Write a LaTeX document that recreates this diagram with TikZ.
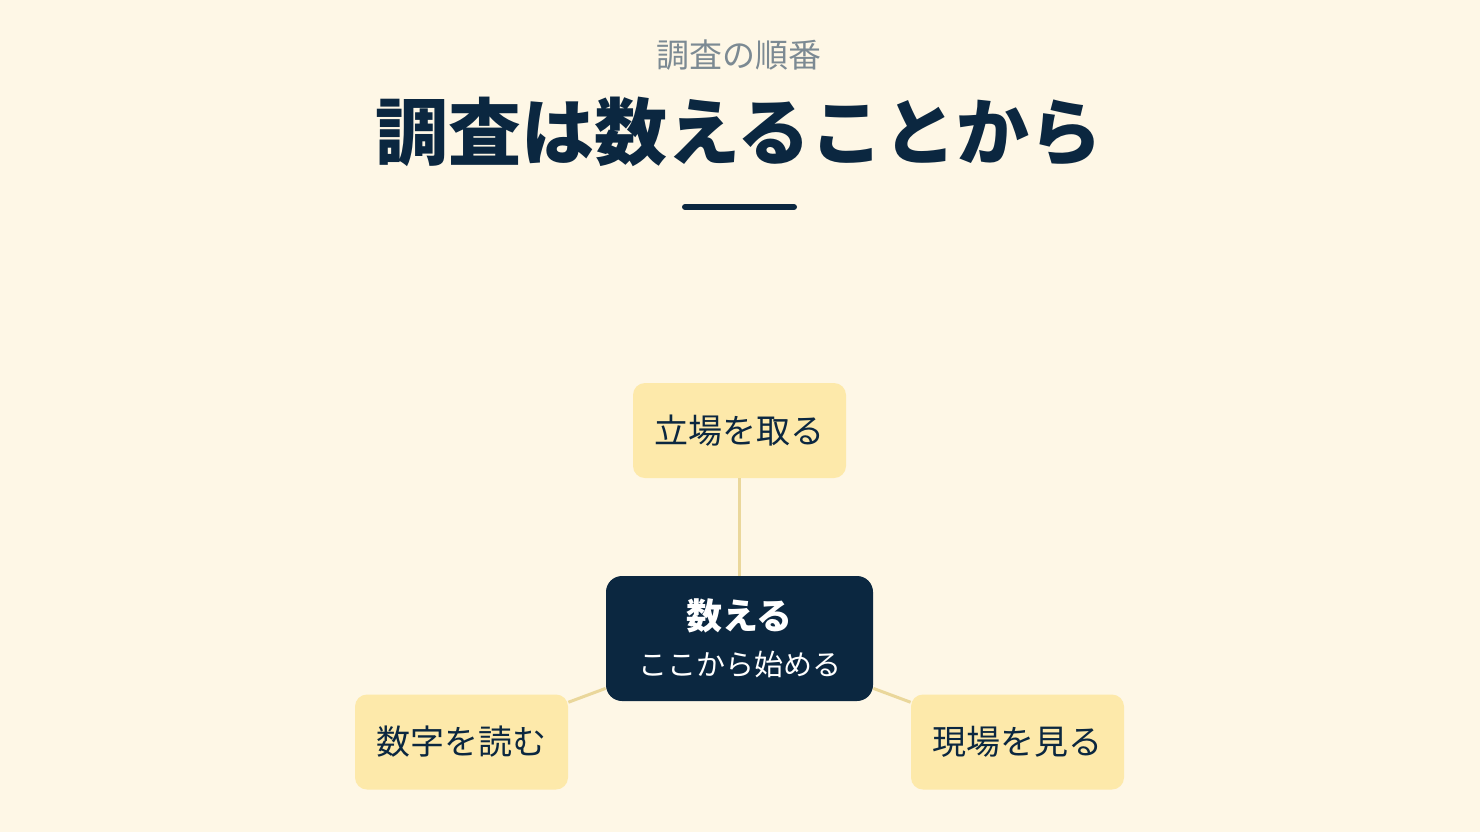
\documentclass[tikz,border=0pt]{standalone}
\usepackage{fontspec}
\setmainfont{Noto Sans CJK JP}
\usepackage{tikz}

\definecolor{cream}{HTML}{FEF7E6}
\definecolor{navy}{HTML}{0B2740}
\definecolor{sand}{HTML}{FDE9AA}
\definecolor{linegold}{HTML}{EAD79B}
\definecolor{subgray}{HTML}{7C8A93}

\begin{document}
\begin{tikzpicture}[x=0.5pt,y=-0.5pt]
\fill[cream] (0,0) rectangle (1480,832);

% heading
\node[text=subgray,font=\fontsize{16.5}{20}\selectfont] (sub) at (739,55) {調査の順番};
\node[text=navy,font=\bfseries\fontsize{36.5}{44}\selectfont] (title) at (739,132) {調査は数えることから};
\coordinate (barL) at (685,207);
\coordinate (barR) at (794,207);
\draw[navy,line width=3pt,line cap=round] (barL) -- (barR);

\begin{scope}[every node/.style={rounded corners=6pt,minimum width=106.5pt,minimum height=47.5pt,
                                 fill=sand,text=navy,font=\fontsize{17}{20}\selectfont}]
    \node (stand) at (739.5,430.5) {立場を取る};
    \node (nums) at (461.5,742) {数字を読む};
    \node (site) at (1017.5,742) {現場を見る};
\end{scope}

\node[rounded corners=8pt,minimum width=133.5pt,minimum height=62.5pt,fill=navy,text=white,
      align=center,font=\fontsize{14.5}{23}\selectfont] (count) at (739.5,638.5)
      {{\bfseries\fontsize{18}{23}\selectfont 数える}\\ここから始める};

\begin{scope}[every edge/.style={draw=linegold,line width=1.5pt}]
    \path (count) edge (stand);
    \path (count) edge (nums);
    \path (count) edge (site);
\end{scope}
\end{tikzpicture}
\end{document}
